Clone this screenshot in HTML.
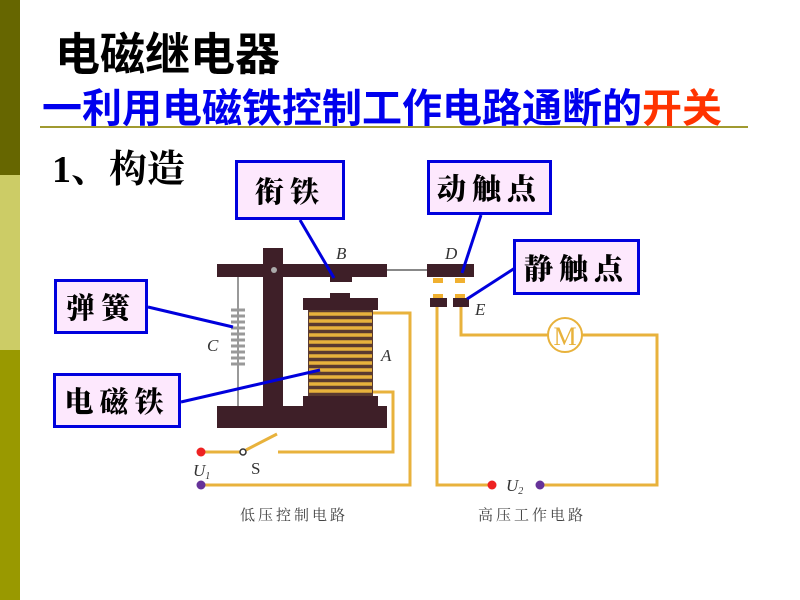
<!DOCTYPE html>
<html><head><meta charset="utf-8"><style>
body{margin:0;width:800px;height:600px;background:#fff;position:relative;overflow:hidden;font-family:"Liberation Sans","Noto Sans CJK SC",sans-serif}
.t{position:absolute;white-space:nowrap;font-weight:bold}
.box{position:absolute;background:#fde8fd;border:3px solid #0000dd;box-sizing:border-box;font-family:"Noto Serif CJK SC","Liberation Serif",serif;font-weight:900;font-size:29px;color:#000;display:flex;align-items:center;justify-content:center;letter-spacing:6px}
</style></head><body>
<div style="position:absolute;left:0;top:0;width:20px;height:175px;background:#666600"></div>
<div style="position:absolute;left:0;top:175px;width:20px;height:175px;background:#cccc66"></div>
<div style="position:absolute;left:0;top:350px;width:20px;height:250px;background:#999900"></div>
<div class="t" style="left:55px;top:18px;font-size:45px;color:#000">电磁继电器</div>
<div class="t" style="left:42px;top:76px;font-size:40px;color:#0000ee;letter-spacing:0px">一利用电磁铁控制工作电路通断的<span style="color:#ff3300">开关</span></div>
<div style="position:absolute;left:40px;top:126px;width:708px;height:2px;background:#a09a30"></div>
<div class="t" style="left:52px;top:138px;font-size:38px;font-weight:bold;color:#000;font-family:'Liberation Serif','Noto Serif CJK SC',serif">1、构造</div>

<svg width="800" height="600" style="position:absolute;left:0;top:0">
<g fill="none" stroke="#e8b23c" stroke-width="3">
<polyline points="373,313 410,313 410,485 203,485"/>
<polyline points="373,392 393,392 393,452 278,452"/>
<polyline points="201,452 240,452"/>
<polyline points="246,450 277,434"/>
<polyline points="437,307 437,485 490,485"/>
<polyline points="542,485 657,485 657,335 582,335"/>
<polyline points="548,335 461,335 461,307"/>
<circle cx="565" cy="335" r="17" stroke-width="2"/>
</g>
<text x="565" y="345" font-family="Liberation Serif" font-size="26" fill="#e8b23c" text-anchor="middle">M</text>
<circle cx="201" cy="452" r="4.5" fill="#ee2222"/>
<circle cx="243" cy="452" r="3" fill="#fff" stroke="#333" stroke-width="1.5"/>
<circle cx="201" cy="485" r="4.5" fill="#663399"/>
<circle cx="492" cy="485" r="4.5" fill="#ee2222"/>
<circle cx="540" cy="485" r="4.5" fill="#663399"/>
<line x1="238" y1="277" x2="238" y2="406" stroke="#999" stroke-width="2"/>
<g stroke="#999" stroke-width="3">
<line x1="231" y1="310" x2="245" y2="310"/><line x1="231" y1="316" x2="245" y2="316"/><line x1="231" y1="322" x2="245" y2="322"/><line x1="231" y1="328" x2="245" y2="328"/><line x1="231" y1="334" x2="245" y2="334"/><line x1="231" y1="340" x2="245" y2="340"/><line x1="231" y1="346" x2="245" y2="346"/><line x1="231" y1="352" x2="245" y2="352"/><line x1="231" y1="358" x2="245" y2="358"/><line x1="231" y1="364" x2="245" y2="364"/>
</g>
<line x1="387" y1="270" x2="427" y2="270" stroke="#888" stroke-width="2"/>
<g fill="#3e1f28">
<rect x="217" y="264" width="170" height="13"/>
<rect x="263" y="248" width="20" height="162"/>
<rect x="217" y="406" width="170" height="22"/>
<rect x="330" y="277" width="22" height="5"/>
<rect x="330" y="293" width="20" height="6"/>
<rect x="303" y="298" width="75" height="12"/>
<rect x="303" y="396" width="75" height="11"/>
<rect x="308" y="310" width="65" height="86" fill="#5a3a30"/>
<rect x="427" y="264" width="47" height="13"/>
<rect x="430" y="298" width="17" height="9"/>
<rect x="453" y="298" width="16" height="9"/>
</g>
<circle cx="274" cy="270" r="3" fill="#aaa"/>
<g stroke="#e8b23c" stroke-width="3.5">
<line x1="309" y1="314" x2="372" y2="314"/><line x1="309" y1="321" x2="372" y2="321"/><line x1="309" y1="328" x2="372" y2="328"/><line x1="309" y1="335" x2="372" y2="335"/><line x1="309" y1="342" x2="372" y2="342"/><line x1="309" y1="349" x2="372" y2="349"/><line x1="309" y1="356" x2="372" y2="356"/><line x1="309" y1="363" x2="372" y2="363"/><line x1="309" y1="370" x2="372" y2="370"/><line x1="309" y1="377" x2="372" y2="377"/><line x1="309" y1="384" x2="372" y2="384"/><line x1="309" y1="391" x2="372" y2="391"/>
</g>
<g fill="#f0b030">
<rect x="433" y="278" width="10" height="5"/><rect x="455" y="278" width="10" height="5"/>
<rect x="433" y="294" width="10" height="4"/><rect x="455" y="294" width="10" height="4"/>
</g>
<g font-family="Liberation Serif" font-style="italic" font-size="17" fill="#333">
<text x="336" y="259">B</text><text x="445" y="259">D</text><text x="475" y="315">E</text>
<text x="207" y="351">C</text><text x="381" y="361">A</text>
<text x="193" y="476">U<tspan font-size="10" dy="3">1</tspan></text>
<text x="506" y="491">U<tspan font-size="10" dy="3">2</tspan></text>
</g>
<text x="251" y="474" font-family="Liberation Serif" font-size="17" fill="#333">S</text>
<g font-family="Noto Serif CJK SC,serif" font-size="15" fill="#444" letter-spacing="3">
<text x="240" y="520">低压控制电路</text><text x="478" y="520">高压工作电路</text>
</g>
<g stroke="#0000dd" stroke-width="3">
<line x1="300" y1="220" x2="334" y2="278"/>
<line x1="481" y1="215" x2="462" y2="273"/>
<line x1="515" y1="268" x2="467" y2="299"/>
<line x1="148" y1="307" x2="233" y2="327"/>
<line x1="181" y1="402" x2="320" y2="370"/>
</g>
</svg>

<div class="box" style="left:235px;top:160px;width:110px;height:60px">衔铁</div>
<div class="box" style="left:427px;top:160px;width:125px;height:55px">动触点</div>
<div class="box" style="left:513px;top:239px;width:127px;height:56px">静触点</div>
<div class="box" style="left:54px;top:279px;width:94px;height:55px">弹簧</div>
<div class="box" style="left:53px;top:373px;width:128px;height:55px">电磁铁</div>
</body></html>
